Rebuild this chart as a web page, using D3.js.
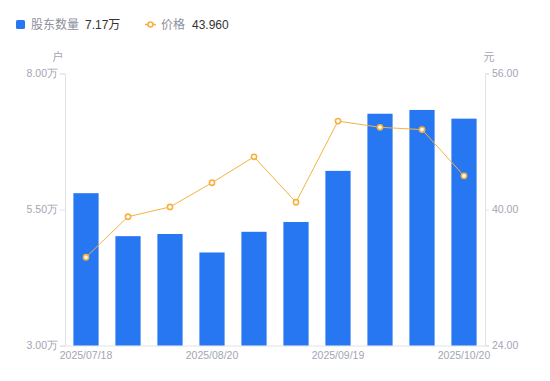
<!DOCTYPE html>
<html><head><meta charset="utf-8">
<script src="https://cdn.jsdelivr.net/npm/d3@7"></script>
<style>body{margin:0;background:#fff}svg{display:block;font-family:"Liberation Sans","Noto Sans CJK SC",sans-serif}</style>
</head><body><div id="chart"></div>
<script>
const dates = ["2025/07/18","2025/07/31","2025/08/10","2025/08/20","2025/08/31","2025/09/10","2025/09/19","2025/09/30","2025/10/10","2025/10/20"];
const holders = [5.80, 5.01, 5.05, 4.71, 5.09, 5.27, 6.21, 7.26, 7.33, 7.17];
const prices = [34.38, 39.15, 40.30, 43.15, 46.20, 40.85, 50.40, 49.67, 49.40, 43.96];
const leftTicks = [3, 5.5, 8];
const rightTicks = [24, 40, 56];
const xTickLabels = ["2025/07/18","2025/08/20","2025/09/19","2025/10/20"];

const W = 550, H = 381;
const m = {l:65, r:65, t:73.5, b:35.5};
const svg = d3.select("#chart").append("svg").attr("width", W).attr("height", H);
const x = d3.scaleBand().domain(dates).range([m.l, W - m.r]).paddingInner(0.4).paddingOuter(0.2);
const xc = d3.scaleBand().domain(dates).range([m.l, W - m.r]);
const yL = d3.scaleLinear().domain([3, 8]).range([H - m.b, m.t]);
const yR = d3.scaleLinear().domain([24, 56]).range([H - m.b, m.t]);
const axisColor = "#e3e3e6", labelColor = "#a3a5b3";

// axes
const gl = svg.append("g").attr("transform", `translate(${m.l},0)`)
  .call(d3.axisLeft(yL).tickValues(leftTicks).tickSize(5).tickFormat(d => d3.format(".2f")(d) + "万"));
const gr = svg.append("g").attr("transform", `translate(${W - m.r},0)`)
  .call(d3.axisRight(yR).tickValues(rightTicks).tickSize(4).tickFormat(d3.format(".2f")));
const gb = svg.append("g").attr("transform", `translate(0,${H - m.b})`)
  .call(d3.axisBottom(xc).tickValues(xTickLabels).tickSize(0).tickPadding(6));
[gl, gr, gb].forEach(g => {
  g.select(".domain").attr("stroke", axisColor);
  g.selectAll(".tick line").attr("stroke", axisColor);
  g.selectAll(".tick text").attr("fill", labelColor).attr("font-size", 10.5);
});
gb.select(".domain").attr("d", `M${m.l - 5},0.5H${W - m.r + 4}`);
gl.selectAll(".tick text").attr("x", -7);
gr.selectAll(".tick text").attr("x", 7);

svg.append("text").attr("x", 58).attr("y", 61).attr("text-anchor", "middle").attr("fill", labelColor).attr("font-size", 11).text("户");
svg.append("text").attr("x", 489).attr("y", 61).attr("text-anchor", "middle").attr("fill", labelColor).attr("font-size", 11).text("元");

// bars
svg.append("g").selectAll("rect").data(holders).join("rect")
  .attr("x", (d, i) => x(dates[i]))
  .attr("width", x.bandwidth())
  .attr("y", d => yL(d))
  .attr("height", d => yL(3) - yL(d))
  .attr("fill", "#2777f2");

// line
const line = d3.line().x((d, i) => xc(dates[i]) + xc.bandwidth() / 2).y(d => yR(d));
svg.append("path").datum(prices).attr("d", line).attr("fill", "none").attr("stroke", "#f7b23e").attr("stroke-width", 1);
svg.append("g").selectAll("circle").data(prices).join("circle")
  .attr("cx", (d, i) => xc(dates[i]) + xc.bandwidth() / 2)
  .attr("cy", d => yR(d))
  .attr("r", 2.6)
  .attr("fill", "#fff").attr("stroke", "#f7b23e").attr("stroke-width", 1.6);

// legend
const lg = svg.append("g").attr("font-size", 12);
lg.append("rect").attr("x", 16).attr("y", 20).attr("width", 9).attr("height", 9).attr("rx", 1.5).attr("fill", "#2777f2");
lg.append("text").attr("x", 31).attr("y", 29).attr("fill", "#8d8f9c").text("股东数量");
lg.append("text").attr("x", 85).attr("y", 29).attr("fill", "#333").text(d3.format(".2f")(holders[holders.length - 1]) + "万");
lg.append("line").attr("x1", 145).attr("x2", 156).attr("y1", 24.5).attr("y2", 24.5).attr("stroke", "#f7b23e").attr("stroke-width", 1.5);
lg.append("circle").attr("cx", 150.5).attr("cy", 24.5).attr("r", 2.5).attr("fill", "#fff").attr("stroke", "#f7b23e").attr("stroke-width", 1.6);
lg.append("text").attr("x", 161).attr("y", 29).attr("fill", "#8d8f9c").text("价格");
lg.append("text").attr("x", 192).attr("y", 29).attr("fill", "#333").text("43.960");
</script></body></html>
